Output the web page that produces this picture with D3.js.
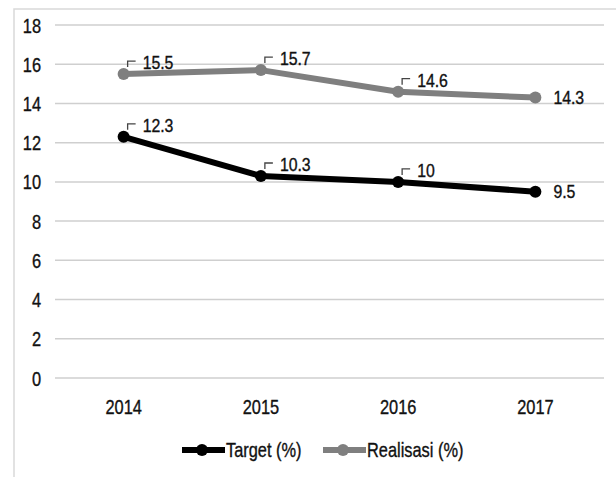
<!DOCTYPE html>
<html>
<head>
<meta charset="utf-8">
<script src="https://cdn.jsdelivr.net/npm/d3@7"></script>
<style>
  body { margin: 0; background: #fff; }
  text { font-family: "Liberation Sans", Arial, sans-serif; fill: #111; stroke: #111; stroke-width: 0.35px; }
</style>
</head>
<body>
<div id="chart"></div>
<script>
var width = 616,
    height = 477;

var years = ["2014", "2015", "2016", "2017"];
var target = [12.3, 10.3, 10, 9.5];
var realisasi = [15.5, 15.7, 14.6, 14.3];
var yTicks = [0, 2, 4, 6, 8, 10, 12, 14, 16, 18];
var seriesNames = ["Target (%)", "Realisasi (%)"];

var series = [
    {name: seriesNames[0], values: target, color: "#000000"},
    {name: seriesNames[1], values: realisasi, color: "#7f7f7f"}
];

// narrow look of the original font
var squeeze = "scale(0.82,1)";

var svg = d3.select("#chart")
    .append("svg")
    .attr("width", width)
    .attr("height", height);

// frame of the pasted chart
svg.append("rect")
    .attr("x", 14).attr("y", 9)
    .attr("width", 640).attr("height", 500)
    .attr("fill", "none")
    .attr("stroke", "#d9d9d9")
    .attr("stroke-width", 1.5);

var x = d3.scaleBand()
    .domain(years)
    .range([55, 604]);

var y = d3.scaleLinear()
    .domain([0, 18])
    .range([378, 25]);

// gridlines
svg.selectAll(".grid")
    .data(yTicks)
    .enter().append("line")
    .attr("class", "grid")
    .attr("x1", 55).attr("x2", 604)
    .attr("y1", function(d) { return y(d); })
    .attr("y2", function(d) { return y(d); })
    .attr("stroke", "#cfcfcf")
    .attr("stroke-width", 1.5);

var yAxis = svg.append("g")
    .attr("transform", "translate(41,0)")
    .call(d3.axisLeft(y).tickValues(yTicks).tickSize(0).tickPadding(0));
yAxis.select(".domain").remove();
yAxis.selectAll("text")
    .attr("font-size", 20)
    .attr("dy", "0.35em")
    .attr("transform", squeeze)
    .style("font-family", "Liberation Sans, Arial, sans-serif")
    .attr("fill", "#111");

var xAxis = svg.append("g")
    .attr("transform", "translate(0,378)")
    .call(d3.axisBottom(x).tickSize(0).tickPadding(22));
xAxis.select(".domain").remove();
xAxis.selectAll("text")
    .attr("font-size", 20)
    .attr("transform", squeeze)
    .style("font-family", "Liberation Sans, Arial, sans-serif")
    .attr("fill", "#111");

var cx = function(i) { return x(years[i]) + x.bandwidth() / 2; };

var line = d3.line()
    .x(function(d, i) { return cx(i); })
    .y(function(d) { return y(d); });

series.forEach(function(s) {
    svg.append("path")
        .datum(s.values)
        .attr("d", line)
        .attr("fill", "none")
        .attr("stroke", s.color)
        .attr("stroke-width", 6)
        .attr("stroke-linejoin", "round");

    svg.selectAll(null)
        .data(s.values)
        .enter().append("circle")
        .attr("cx", function(d, i) { return cx(i); })
        .attr("cy", function(d) { return y(d); })
        .attr("r", 6)
        .attr("fill", s.color);

    // data labels
    s.values.forEach(function(v, i) {
        var px = cx(i), py = y(v);
        var last = i == s.values.length - 1;
        if (!last) {
            svg.append("path")
                .attr("d", "M" + (px + 4) + "," + (py - 7) + "V" + (py - 13) + "H" + (px + 12))
                .attr("fill", "none")
                .attr("stroke", "#444")
                .attr("stroke-width", 1.3);
        }
        svg.append("g")
            .attr("transform", "translate(" + (last ? px + 18 : px + 19) + "," + (last ? py + 6 : py - 5) + ")")
            .append("text")
            .attr("transform", "scale(0.88,1)")
            .attr("font-size", 18)
            .text(v);
    });
});

// legend
var legendX = [182, 323];
series.forEach(function(s, i) {
    var g = svg.append("g").attr("transform", "translate(" + legendX[i] + ",450)");
    g.append("line")
        .attr("x1", 0).attr("x2", 43)
        .attr("stroke", s.color)
        .attr("stroke-width", 6);
    g.append("circle")
        .attr("cx", 20).attr("r", 6)
        .attr("fill", s.color);
    g.append("g")
        .attr("transform", "translate(44,0)")
        .append("text")
        .attr("dy", "0.35em")
        .attr("transform", squeeze)
        .attr("font-size", 20)
        .text(s.name);
});
</script>
</body>
</html>
